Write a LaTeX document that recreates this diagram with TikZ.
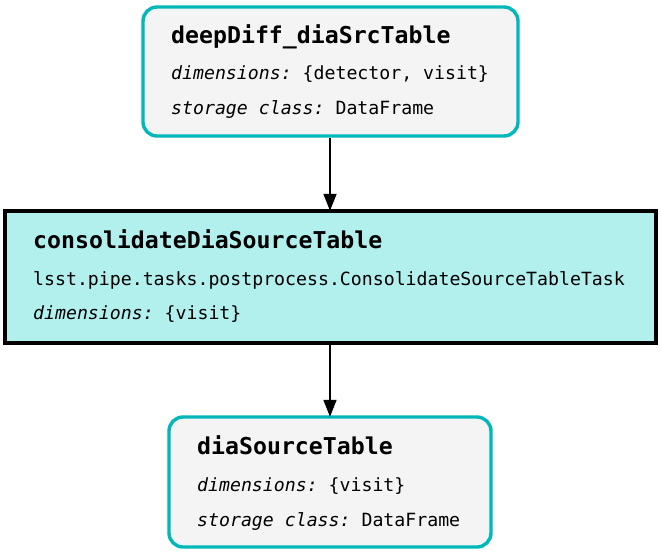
\documentclass[tikz,border=0pt]{standalone}
\usepackage{fontspec}
\setmainfont{DejaVu Sans Mono}
\usetikzlibrary{arrows.meta}
\definecolor{dsborder}{HTML}{00B7BA}
\definecolor{dsfill}{HTML}{F4F4F4}
\definecolor{taskfill}{HTML}{B2F0EE}
\tikzset{
  dsbox/.style={draw=dsborder, fill=dsfill, line width=3.4pt, rounded corners=14pt},
  taskbox/.style={draw=black, fill=taskfill, line width=3.2pt},
  ttl/.style={anchor=base west, inner sep=0pt, font=\fontsize{23.2}{26}\selectfont\bfseries},
  txt/.style={anchor=base west, inner sep=0pt, font=\fontsize{18.2}{22}\selectfont},
  flow/.style={line width=1.8pt, -{Triangle[length=17pt,width=13pt]}}
}
\begin{document}
\begin{tikzpicture}[x=1pt,y=-1pt]
\useasboundingbox (0,0) rectangle (661,555);
% boxes
\draw[dsbox] (143,7) rectangle (518,136);
\node[inner sep=0pt, minimum width=375pt, minimum height=129pt] (a) at (330,71.5) {};
\draw[taskbox] (5,211) rectangle (656,343);
\node[inner sep=0pt, minimum width=651pt, minimum height=132pt] (b) at (330,277) {};
\draw[dsbox] (169,417) rectangle (491,547);
\node[inner sep=0pt, minimum width=322pt, minimum height=130pt] (c) at (330,482) {};
% texts top
\node[ttl] (a1) at (171,43) {deepDiff\_diaSrcTable};
\node[txt] (a2) at (171,79) {\itshape dimensions:\upshape\ \{detector, visit\}};
\node[txt] (a3) at (171,114) {\itshape storage class:\upshape\ DataFrame};
% texts middle
\node[ttl] (b1) at (33,248) {consolidateDiaSourceTable};
\node[txt] (b2) at (33,285) {lsst.pipe.tasks.postprocess.ConsolidateSourceTableTask};
\node[txt] (b3) at (33,319) {\itshape dimensions:\upshape\ \{visit\}};
% texts bottom
\node[ttl] (c1) at (197,454) {diaSourceTable};
\node[txt] (c2) at (197,491) {\itshape dimensions:\upshape\ \{visit\}};
\node[txt] (c3) at (197,526) {\itshape storage class:\upshape\ DataFrame};
% arrows
\draw[flow] (a.south) ++(0,1.7) coordinate (as) (as) -- (b.north);
\draw[flow] (b.south) ++(0,1.6) coordinate (bs) (bs) -- (c.north);
\end{tikzpicture}
\end{document}
